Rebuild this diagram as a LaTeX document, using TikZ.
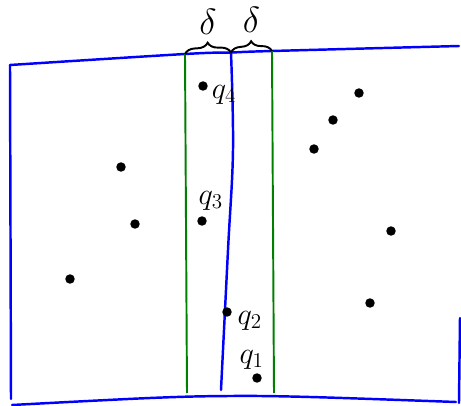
\documentclass[tikz,border=0pt]{standalone}
\usepackage{tikz}
\usetikzlibrary{positioning, arrows.meta, calc, decorations.pathreplacing}

\begin{document}
\begin{tikzpicture}[
    x=0.02cm, y=-0.02cm,    % 画素座標のまま描く（y は下向き）
    line width=1.4pt,       % 手書き風の線の太さ
    font=\huge,             % フォントサイズを一括で大きくする
    pt/.style={circle, fill=black, inner sep=0pt, minimum size=5.4pt},
    qlab/.style={font=\LARGE, inner sep=1pt},
    bluel/.style={blue, line cap=round},
    greenl/.style={green!50!black, line width=1.1pt},
    dbrace/.style={decorate, decoration={brace, amplitude=6pt}, line width=1.1pt}
]
    \useasboundingbox (0,0) rectangle (461,406);

    % --- 1. 外枠（青） ---
    \draw [bluel, smooth, tension=0.6] plot coordinates {(10,65) (185,54) (231,52.5) (272,51) (459,46)};
    \draw [bluel] (10,65) -- (11,399);
    \draw [bluel, smooth, tension=0.6] plot coordinates {(12,405) (150,398) (230,396) (310,397) (456,402)};
    \draw [bluel] (460,318) -- (459,403);

    % --- 2. 帯の境界線（緑）と中央線（青） ---
    \coordinate (gl) at (185,54);
    \coordinate (mb) at (231,52.5);
    \coordinate (gr) at (272,51);
    \draw [greenl] (gl) -- (187,393);
    \draw [greenl] (gr) -- (274,393);
    \draw [bluel, smooth, tension=0.6] plot coordinates {(mb) (233,150) (228,250) (221,390)};

    % --- 3. 幅 delta を示す波括弧 ---
    \draw [dbrace] (gl) -- (mb) node[midway, above=7pt] (dl) {$\delta$};
    \draw [dbrace] (mb) -- (gr) node[midway, above=7pt] (dr) {$\delta$};

    % --- 4. 帯の中の点とラベル ---
    \node [pt] (p4) at (203,86) {};
    \node [qlab, right=0pt of p4, yshift=-5pt] (q4) {$q_4$};
    \node [pt] (p3) at (202,221) {};
    \node [qlab, above=1pt of p3, xshift=5pt] (q3) {$q_3$};
    \node [pt] (p2) at (227,312) {};
    \node [qlab, right=1pt of p2, yshift=-5pt] (q2) {$q_2$};
    \node [pt] (p1) at (257,378) {};
    \node [qlab, above=0pt of p1, xshift=-3pt] (q1) {$q_1$};

    % --- 5. 帯の外の点 ---
    \node [pt] (a1) at (121,167) {};
    \node [pt] (a2) at (135,224) {};
    \node [pt] (a3) at (70,279) {};
    \node [pt] (b1) at (359,93) {};
    \node [pt] (b2) at (333,120) {};
    \node [pt] (b3) at (314,149) {};
    \node [pt] (b4) at (391,231) {};
    \node [pt] (b5) at (370,303) {};

\end{tikzpicture}
\end{document}
